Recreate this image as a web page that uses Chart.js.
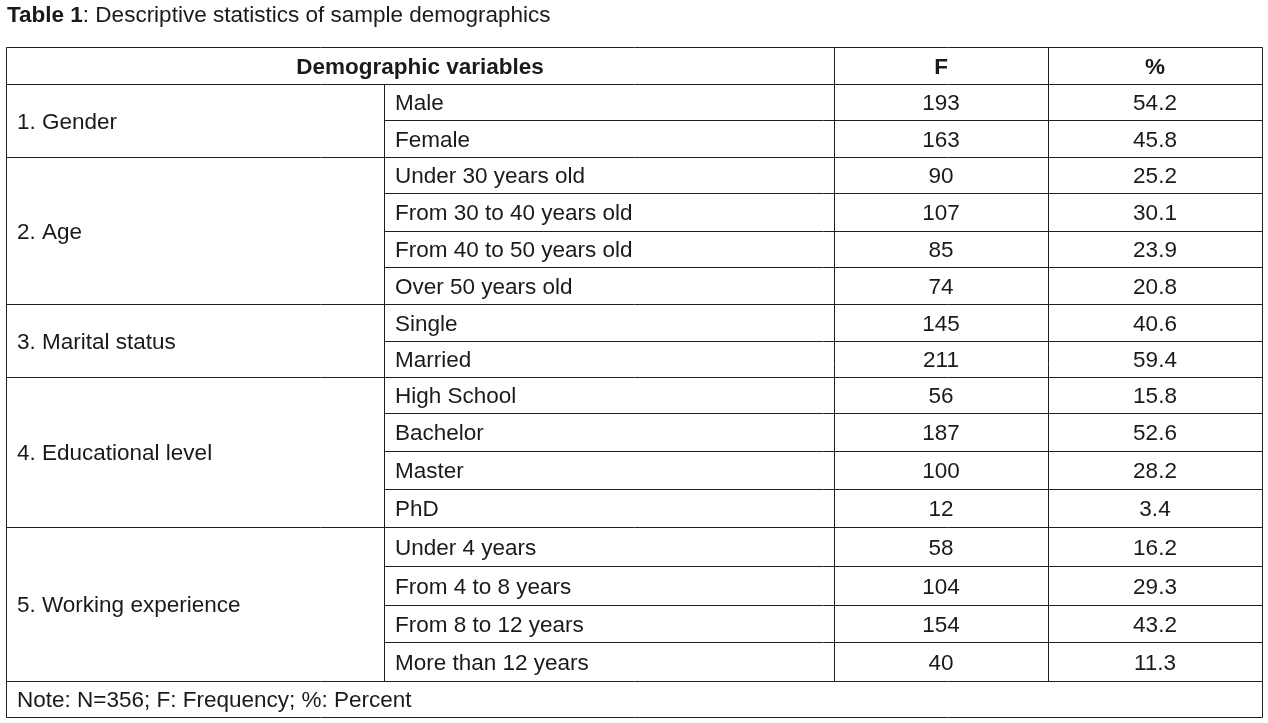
<!DOCTYPE html>
<html>
<head>
<meta charset="utf-8">
<title>Table 1: Descriptive statistics of sample demographics</title>
<script src="https://cdn.jsdelivr.net/npm/chart.js@4/dist/chart.umd.min.js"></script>
<style>
    html, body { margin: 0; padding: 0; background: #fff; }
    #wrap { width: 1268px; height: 723px; position: relative; }
</style>
</head>
<body>
<div id="wrap"><canvas id="tableChart"></canvas></div>
<script>
// Table data
const titleBold = 'Table 1';
const titleRest = ': Descriptive statistics of sample demographics';
const headers = ['Demographic variables', 'F', '%'];
const groups = ['1. Gender', '2. Age', '3. Marital status', '4. Educational level', '5. Working experience'];
const groupSizes = [2, 4, 2, 4, 4];
const categories = [
    'Male', 'Female',
    'Under 30 years old', 'From 30 to 40 years old', 'From 40 to 50 years old', 'Over 50 years old',
    'Single', 'Married',
    'High School', 'Bachelor', 'Master', 'PhD',
    'Under 4 years', 'From 4 to 8 years', 'From 8 to 12 years', 'More than 12 years'
];
const frequency = [193, 163, 90, 107, 85, 74, 145, 211, 56, 187, 100, 12, 58, 104, 154, 40];
const percent = [54.2, 45.8, 25.2, 30.1, 23.9, 20.8, 40.6, 59.4, 15.8, 52.6, 28.2, 3.4, 16.2, 29.3, 43.2, 11.3];
const note = 'Note: N=356; F: Frequency; %: Percent';

// Layout: column widths and row heights in scale units
const colWidths = [378, 450, 214, 214];
const rowHeights = [37, 36, 37, 36, 38, 36, 37, 37, 36, 36, 38, 38, 38, 39, 39, 37, 39, 36];
const cumulate = arr => arr.reduce((acc, w) => { acc.push(acc[acc.length - 1] + w); return acc; }, [0]);
const colEdges = cumulate(colWidths);
const rowEdges = cumulate(rowHeights);
const rowCount = rowHeights.length;
const FONT = '"Liberation Sans", Arial, sans-serif';
const TEXT_SIZE = 22.5;
const INK = '#1a1a1a';
const LINE = '#1e1e1e';
const PAD = 11;

function crisp(v) {
    return Math.round(v) + 0.5;
}

const tablePlugin = {
    id: 'tablePlugin',
    afterDraw(chart) {
        const ctx = chart.ctx;
        const xs = chart.scales.x;
        const ys = chart.scales.y;
        const X = c => xs.getPixelForValue(colEdges[c]);
        const Y = r => ys.getPixelForValue(rowEdges[r]);
        const left = crisp(X(0));
        const right = crisp(X(4));
        const top = crisp(Y(0));
        const bottom = crisp(Y(rowCount));

        ctx.save();

        // title
        ctx.fillStyle = INK;
        ctx.textBaseline = 'alphabetic';
        ctx.textAlign = 'left';
        ctx.font = 'bold ' + TEXT_SIZE + 'px ' + FONT;
        ctx.fillText(titleBold, 7, 22);
        const bw = ctx.measureText(titleBold).width;
        ctx.font = TEXT_SIZE + 'px ' + FONT;
        ctx.fillText(titleRest, 7 + bw, 22);

        // grid lines
        ctx.strokeStyle = LINE;
        ctx.lineWidth = 1;
        ctx.beginPath();
        ctx.rect(left, top, right - left, bottom - top);

        // header bottom and note top: full width
        [1, rowCount - 1].forEach(r => {
            const y = crisp(Y(r));
            ctx.moveTo(left, y);
            ctx.lineTo(right, y);
        });

        // row lines: full width at group edges, from column 1 inside groups
        let r = 1;
        groupSizes.forEach(n => {
            for (let k = 1; k < n; k++) {
                const y = crisp(Y(r + k));
                ctx.moveTo(crisp(X(1)), y);
                ctx.lineTo(right, y);
            }
            r += n;
            if (r < rowCount - 1) {
                const y = crisp(Y(r));
                ctx.moveTo(left, y);
                ctx.lineTo(right, y);
            }
        });

        // vertical lines
        const x1 = crisp(X(1));
        ctx.moveTo(x1, crisp(Y(1)));
        ctx.lineTo(x1, crisp(Y(rowCount - 1)));
        [2, 3].forEach(c => {
            const x = crisp(X(c));
            ctx.moveTo(x, top);
            ctx.lineTo(x, crisp(Y(rowCount - 1)));
        });
        ctx.stroke();

        // cell text, baseline a bit below the middle of the span
        const base = (r0, r1) => (Y(r0) + Y(r1)) / 2 + TEXT_SIZE * 0.37;
        const mid = (c0, c1) => (X(c0) + X(c1)) / 2;

        ctx.font = 'bold ' + TEXT_SIZE + 'px ' + FONT;
        ctx.textAlign = 'center';
        ctx.fillText(headers[0], mid(0, 2), base(0, 1));
        ctx.fillText(headers[1], mid(2, 3), base(0, 1));
        ctx.fillText(headers[2], mid(3, 4), base(0, 1));

        ctx.font = TEXT_SIZE + 'px ' + FONT;
        r = 1;
        groups.forEach((g, i) => {
            ctx.textAlign = 'left';
            ctx.fillText(g, X(0) + PAD, base(r, r + groupSizes[i]));
            r += groupSizes[i];
        });

        categories.forEach((c, i) => {
            const row = i + 1;
            ctx.textAlign = 'left';
            ctx.fillText(c, X(1) + PAD, base(row, row + 1));
            ctx.textAlign = 'center';
            ctx.fillText(String(frequency[i]), mid(2, 3), base(row, row + 1));
            ctx.fillText(percent[i].toFixed(1), mid(3, 4), base(row, row + 1));
        });

        ctx.textAlign = 'left';
        ctx.fillText(note, X(0) + PAD, base(rowCount - 1, rowCount));

        ctx.restore();
    }
};

function drawTable() {
    const ctx = document.getElementById('tableChart').getContext('2d');
    new Chart(ctx, {
        type: 'scatter',
        data: { datasets: [] },
        options: {
            responsive: true,
            maintainAspectRatio: false,
            animation: false,
            events: [],
            layout: { padding: { left: 6, right: 6, top: 47, bottom: 6 } },
            plugins: {
                legend: { display: false },
                title: { display: false },
                tooltip: { enabled: false }
            },
            scales: {
                x: { type: 'linear', display: false, min: 0, max: colEdges[colEdges.length - 1] },
                y: { type: 'linear', display: false, min: 0, max: rowEdges[rowEdges.length - 1], reverse: true }
            }
        },
        plugins: [tablePlugin]
    });
}

drawTable();
</script>
</body>
</html>
